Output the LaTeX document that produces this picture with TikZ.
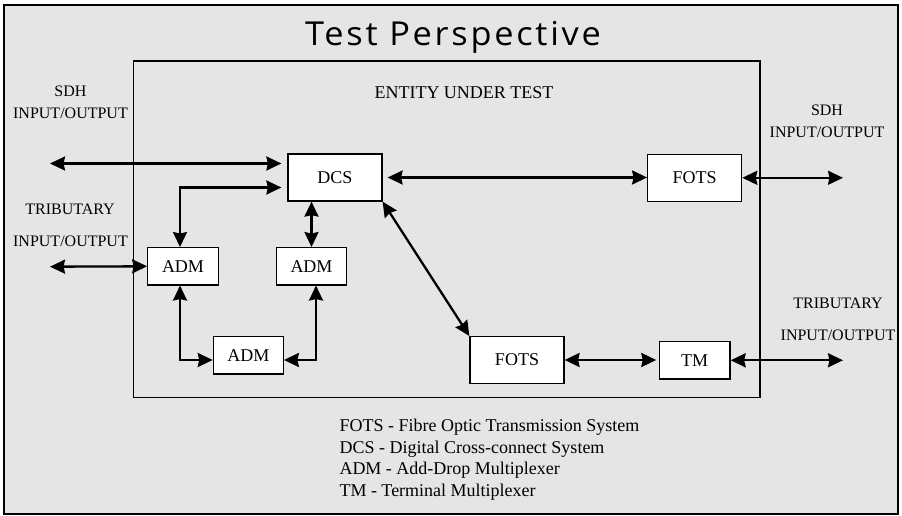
\documentclass[tikz,border=0pt]{standalone}
\usepackage{fontspec}
\setmainfont{Liberation Serif}
\newfontfamily\titlefont[LetterSpace=8]{Open Sans}
\usetikzlibrary{arrows.meta,calc}
\definecolor{bggray}{RGB}{229,229,229}
\begin{document}
\begin{tikzpicture}[x=1pt,y=-1pt,
  box/.style={draw,line width=1.2pt,fill=white,inner sep=0pt,font=\fontsize{18}{20}\selectfont},
  conn/.style={line width=2.3pt,{Stealth[length=15pt,width=14pt,inset=1.5pt]}-{Stealth[length=15pt,width=14pt,inset=1.5pt]}},
  lbl/.style={font=\fontsize{16}{18}\selectfont,anchor=base,inner sep=0pt},
  leg/.style={font=\fontsize{18}{20}\selectfont,anchor=base west,inner sep=0pt}]
\useasboundingbox (0,0) rectangle (902,516);
\fill[white] (0,0) rectangle (902,516);
\draw[fill=bggray,line width=1.2pt] (4,5) rectangle (898,514);
\node[anchor=base,inner sep=0pt,font=\titlefont\fontsize{33}{36}\selectfont] (title) at (453,45.7) {\scalebox{1.04}[1]{Test Perspective}};
\draw[line width=1.5pt] (133.7,61) rectangle (760,397.5);
\node[lbl,font=\fontsize{18}{20}\selectfont] (eut) at (464,98.3) {ENTITY UNDER TEST};
% boxes
\node[box,minimum width=94pt,minimum height=47pt] (DCS) at (335,177.5) {DCS};
\node[box,minimum width=70.5pt,minimum height=37.3pt] (ADMa) at (183,266.3) {ADM};
\node[box,minimum width=70.5pt,minimum height=37.3pt] (ADMb) at (311.5,266.3) {ADM};
\node[box,minimum width=70pt,minimum height=37.3pt] (ADMc) at (248.3,355.3) {ADM};
\node[box,minimum width=94pt,minimum height=47pt] (FOTSa) at (694.7,177.8) {FOTS};
\node[box,minimum width=94pt,minimum height=46.7pt] (FOTSb) at (517,360) {FOTS};
\node[box,minimum width=70.7pt,minimum height=37.3pt] (TM) at (694.7,360.3) {TM};
% free ends
\coordinate (sdhL) at (50,163.5);
\coordinate (tribL) at (50,266.7);
\coordinate (sdhR) at (843,177.8);
\coordinate (tribR) at (843,360.3);
% connectors
\draw[conn,shorten >=6pt] (sdhL) -- (sdhL -| DCS.west);
\draw[conn,shorten >=6pt] ([xshift=-3pt]ADMa.north) |- ([yshift=-10pt]DCS.west);
\draw[conn] (ADMb.north) -- (ADMb.north |- DCS.south);
\draw[conn,shorten <=5pt] (DCS.east) -- (DCS.east -| FOTSa.west);
\draw[conn] (FOTSa.east) -- (sdhR);
\draw[conn] (DCS.south east) -- (FOTSb.north west);
\draw[conn,shorten >=2.5pt] (FOTSb.east) -- (FOTSb.east -| TM.west);
\draw[conn] (TM.east) -- (tribR);
\draw[conn] (tribL) -- (ADMa.west);
\draw[conn] ([xshift=-3pt]ADMa.south) |- ([yshift=-4.7pt]ADMc.west);
\draw[conn] ([xshift=4.5pt]ADMb.south) |- ([yshift=-4.7pt]ADMc.east);
% side labels
\node[lbl] (sdhLa) at (70.5,96.7) {SDH};
\node[lbl] (sdhLb) at (70.5,118.3) {INPUT/OUTPUT};
\node[lbl] (tribLa) at (70,214) {TRIBUTARY};
\node[lbl] (tribLb) at (70.5,246) {INPUT/OUTPUT};
\node[lbl] (sdhRa) at (827,115.7) {SDH};
\node[lbl] (sdhRb) at (827,137.3) {INPUT/OUTPUT};
\node[lbl] (tribRa) at (838,308.3) {TRIBUTARY};
\node[lbl] (tribRb) at (838,340.7) {INPUT/OUTPUT};
% legend
\node[leg] (leg1) at (339.3,431.7) {FOTS - Fibre Optic Transmission System};
\node[leg] (leg2) at (339.3,453) {DCS - Digital Cross-connect System};
\node[leg] (leg3) at (339.3,474.5) {ADM - Add-Drop Multiplexer};
\node[leg] (leg4) at (339.3,496) {TM - Terminal Multiplexer};
\end{tikzpicture}
\end{document}
